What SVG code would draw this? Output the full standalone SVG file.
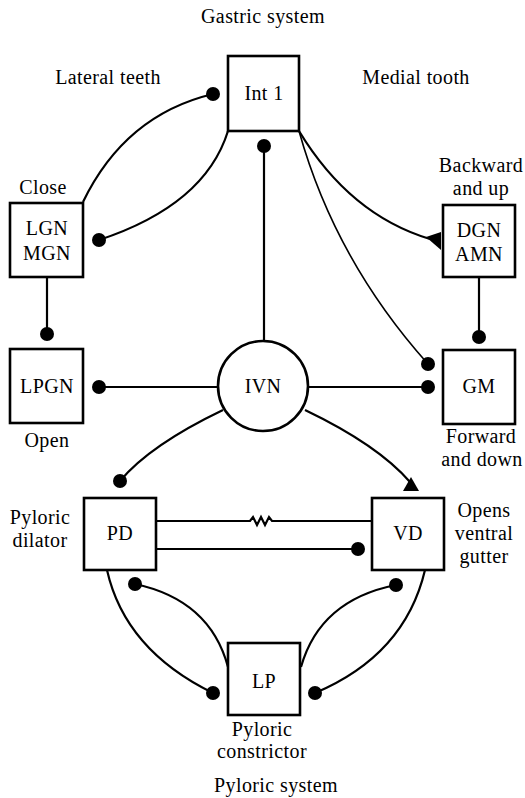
<svg xmlns="http://www.w3.org/2000/svg" width="525" height="798" viewBox="0 0 525 798">
<style>
  text { font-family: "Liberation Serif", "Times New Roman", serif; font-size: 20px; fill: #000; text-anchor: middle; letter-spacing: 0.4px; }
  .box { fill: #fff; stroke: #000; stroke-width: 2.6; }
  .c { fill: none; stroke: #000; stroke-width: 2.2; }
  .thin { fill: none; stroke: #000; stroke-width: 1.6; }
  .dot { fill: #000; }
</style>
<rect width="525" height="798" fill="#fff"/>

<g id="labels">
  <text x="263" y="23">Gastric system</text>
  <text x="108" y="84">Lateral teeth</text>
  <text x="416" y="84">Medial tooth</text>
  <text x="43" y="194">Close</text>
  <text x="481" y="172">Backward</text>
  <text x="481" y="195">and up</text>
  <text x="47" y="447">Open</text>
  <text x="481" y="443">Forward</text>
  <text x="482" y="466">and down</text>
  <text x="40" y="524">Pyloric</text>
  <text x="40" y="547">dilator</text>
  <text x="484" y="517">Opens</text>
  <text x="484" y="540">ventral</text>
  <text x="484" y="563">gutter</text>
  <text x="262" y="736">Pyloric</text>
  <text x="262" y="758">constrictor</text>
  <text x="276" y="792">Pyloric system</text>
</g>

<g id="connectors">
  <path class="c" d="M83,202 Q125,115 213,94"/>
  <circle class="dot" cx="213" cy="94" r="7"/>
  <path class="c" d="M228,131 Q205,205 99,240"/>
  <circle class="dot" cx="99" cy="240" r="7"/>
  <path class="c" d="M264,146 L264,341"/>
  <circle class="dot" cx="264" cy="146" r="7"/>
  <path class="c" d="M299,131 Q350,215 430,239"/>
  <polygon class="dot" points="426,237 441,232 441,250"/>
  <path class="thin" d="M299,131 Q335,260 428,364"/>
  <circle class="dot" cx="428" cy="364" r="7"/>
  <path class="c" d="M47,277 L47,334"/>
  <circle class="dot" cx="47" cy="334" r="7"/>
  <path class="c" d="M479,277 L479,337"/>
  <circle class="dot" cx="479" cy="337" r="7"/>
  <path class="c" d="M218,387 L99,387"/>
  <circle class="dot" cx="99" cy="387" r="7"/>
  <path class="c" d="M308,387 L428,387"/>
  <circle class="dot" cx="428" cy="387" r="7"/>
  <path class="c" d="M223,410 Q150,445 120,481"/>
  <circle class="dot" cx="120" cy="481" r="7"/>
  <path class="c" d="M305,410 Q378,445 410,482"/>
  <polygon class="dot" points="411,477 403,491 419,491"/>
  <path class="c" d="M156,521 L250,521 L253,517 L257,525 L261,517 L265,525 L269,517 L272,521 L372,521"/>
  <path class="c" d="M156,549 L358,549"/>
  <circle class="dot" cx="358" cy="549" r="7"/>
  <path class="c" d="M107,570 Q125,650 213,693"/>
  <circle class="dot" cx="213" cy="693" r="7"/>
  <path class="c" d="M135,584 Q210,600 228,667"/>
  <circle class="dot" cx="135" cy="584" r="7"/>
  <path class="c" d="M425,570 Q405,655 315,693"/>
  <circle class="dot" cx="315" cy="693" r="7"/>
  <path class="c" d="M396,585 Q320,600 301,667"/>
  <circle class="dot" cx="396" cy="585" r="7"/>
</g>

<g id="Int1"><rect class="box" x="228" y="56" width="71" height="75"/><text x="264" y="100">Int 1</text></g>
<g id="LGN"><rect class="box" x="10" y="203" width="73" height="74"/><text x="47" y="235">LGN</text><text x="47" y="260">MGN</text></g>
<g id="LPGN"><rect class="box" x="10" y="349" width="73" height="74"/><text x="47" y="393">LPGN</text></g>
<g id="DGN"><rect class="box" x="443" y="205" width="72" height="72"/><text x="479" y="237">DGN</text><text x="479" y="261">AMN</text></g>
<g id="GM"><rect class="box" x="443" y="350" width="72" height="74"/><text x="479" y="393">GM</text></g>
<g id="IVN"><circle class="box" cx="263" cy="386" r="45"/><text x="263" y="393">IVN</text></g>
<g id="PD"><rect class="box" x="84" y="498" width="72" height="72"/><text x="120" y="540">PD</text></g>
<g id="VD"><rect class="box" x="372" y="498" width="72" height="72"/><text x="408" y="540">VD</text></g>
<g id="LP"><rect class="box" x="228" y="643" width="72" height="72"/><text x="264" y="688">LP</text></g>
</svg>
